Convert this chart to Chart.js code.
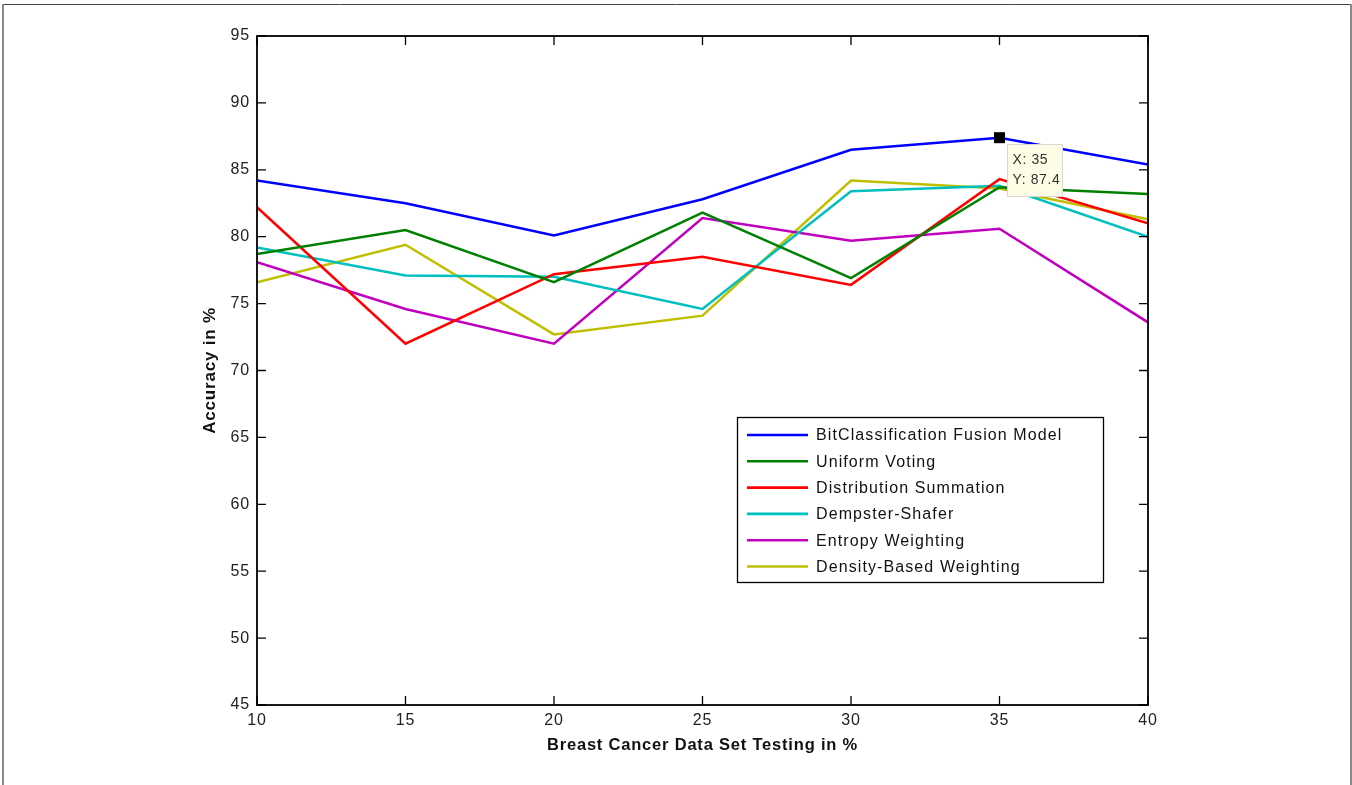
<!DOCTYPE html>
<html>
<head>
<meta charset="utf-8">
<title>Breast Cancer Data Set – Accuracy</title>
<script src="https://cdn.jsdelivr.net/npm/chart.js@4.4.1/dist/chart.umd.min.js"></script>
<style>
  html, body { margin: 0; padding: 0; background: #fff; }
  canvas { display: block; }
</style>
</head>
<body>
<canvas id="chart" width="1352" height="785"></canvas>
<script>
// Testing split (% of data set held out) and accuracy per fusion method
const testingPct = [10, 15, 20, 25, 30, 35, 40];

const bitClassificationFusion = [84.2, 82.5, 80.1, 82.8, 86.5, 87.4, 85.4];
const uniformVoting           = [78.7, 80.5, 76.6, 81.8, 76.9, 83.7, 83.2];
const distributionSummation   = [82.2, 72.0, 77.2, 78.5, 76.4, 84.3, 81.0];
const dempsterShafer          = [79.2, 77.1, 77.0, 74.6, 83.4, 83.8, 80.0];
const entropyWeighting        = [78.1, 74.6, 72.0, 81.4, 79.7, 80.6, 73.6];
const densityBasedWeighting   = [76.6, 79.4, 72.7, 74.1, 84.2, 83.6, 81.3];

const seriesNames = [
  'BitClassification Fusion Model',
  'Uniform Voting',
  'Distribution Summation',
  'Dempster-Shafer',
  'Entropy Weighting',
  'Density-Based Weighting'
];
const seriesValues = [
  bitClassificationFusion, uniformVoting, distributionSummation,
  dempsterShafer, entropyWeighting, densityBasedWeighting
];
const seriesColors = ['#0000ff', '#008000', '#ff0000', '#00bfbf', '#bf00bf', '#bfbf00'];

// Axis ranges and tick spacing
const xMin = 10, xMax = 40, xStep = 5;
const yMin = 45, yMax = 95, yStep = 5;

// Data tip pinned on the first series at 35 %
const tipSeries = 0;
const tipIndex = 5;

const FONT = '"Liberation Sans", Arial, "DejaVu Sans", sans-serif';

const datasets = seriesNames.map((name, i) => ({
  label: name,
  data: testingPct.map((x, j) => ({ x: x, y: seriesValues[i][j] })),
  borderColor: seriesColors[i],
  backgroundColor: seriesColors[i],
  borderWidth: 2.5,
  pointRadius: 0,
  pointHoverRadius: 0,
  tension: 0,
  fill: false
}));

// White page, thin figure border, and letter spacing for all canvas text
const figurePlugin = {
  id: 'figure',
  beforeDraw(chart) {
    const ctx = chart.ctx;
    ctx.save();
    ctx.fillStyle = '#ffffff';
    ctx.fillRect(0, 0, chart.width, chart.height);
    ctx.lineWidth = 1;
    ctx.strokeStyle = '#444';
    ctx.beginPath();
    ctx.moveTo(2, 4.5); ctx.lineTo(1351, 4.5);
    ctx.stroke();
    ctx.lineWidth = 2;
    ctx.strokeStyle = '#8a8a8a';
    ctx.beginPath();
    ctx.moveTo(3, 4); ctx.lineTo(3, chart.height);
    ctx.moveTo(1351, 4); ctx.lineTo(1351, chart.height);
    ctx.stroke();
    ctx.restore();
    ctx.letterSpacing = '0.8px';
  }
};

// Boxed axes with inward ticks on all four sides
const framePlugin = {
  id: 'frame',
  afterDatasetsDraw(chart) {
    const ctx = chart.ctx;
    const a = chart.chartArea;
    const xs = chart.scales.x, ys = chart.scales.y;
    const tl = 9;
    ctx.save();
    ctx.strokeStyle = '#000';
    ctx.lineWidth = 1.8;
    ctx.strokeRect(a.left, a.top, a.right - a.left, a.bottom - a.top);
    ctx.lineWidth = 1.3;
    ctx.beginPath();
    ys.ticks.forEach(t => {
      const y = ys.getPixelForValue(t.value);
      ctx.moveTo(a.left, y); ctx.lineTo(a.left + tl, y);
      ctx.moveTo(a.right, y); ctx.lineTo(a.right - tl, y);
    });
    xs.ticks.forEach(t => {
      const x = xs.getPixelForValue(t.value);
      ctx.moveTo(x, a.bottom); ctx.lineTo(x, a.bottom - tl);
      ctx.moveTo(x, a.top); ctx.lineTo(x, a.top + tl);
    });
    ctx.stroke();
    ctx.restore();
  }
};

// Boxed legend inside the plot area
const boxLegendPlugin = {
  id: 'boxLegend',
  afterDatasetsDraw(chart, args, opts) {
    const ctx = chart.ctx;
    ctx.save();
    ctx.fillStyle = '#fff';
    ctx.fillRect(opts.left, opts.top, opts.width, opts.height);
    ctx.strokeStyle = '#000';
    ctx.lineWidth = 1.3;
    ctx.strokeRect(opts.left + 0.5, opts.top + 0.5, opts.width, opts.height);
    ctx.font = '16px ' + FONT;
    ctx.letterSpacing = '1.1px';
    ctx.textBaseline = 'middle';
    ctx.textAlign = 'left';
    chart.data.datasets.forEach((ds, i) => {
      const y = opts.top + opts.firstRow + i * opts.rowGap;
      ctx.strokeStyle = ds.borderColor;
      ctx.lineWidth = 2.6;
      ctx.beginPath();
      ctx.moveTo(opts.left + 10, y);
      ctx.lineTo(opts.left + 71, y);
      ctx.stroke();
      ctx.fillStyle = '#111';
      ctx.fillText(ds.label, opts.left + 79, y + 1);
    });
    ctx.restore();
  }
};

// Data cursor marker with its X/Y readout
const dataTipPlugin = {
  id: 'dataTip',
  afterDraw(chart) {
    const ctx = chart.ctx;
    const pt = chart.data.datasets[tipSeries].data[tipIndex];
    const px = chart.scales.x.getPixelForValue(pt.x);
    const py = chart.scales.y.getPixelForValue(pt.y);
    ctx.save();
    ctx.fillStyle = '#000';
    ctx.fillRect(px - 5.5, py - 5.5, 11, 11);
    const bx = Math.round(px + 7) + 0.5, by = Math.round(py + 6) + 0.5;
    ctx.fillStyle = '#fdfde6';
    ctx.fillRect(bx, by, 55, 52);
    ctx.strokeStyle = '#d8d8d0';
    ctx.lineWidth = 1;
    ctx.strokeRect(bx, by, 55, 52);
    ctx.fillStyle = '#333';
    ctx.font = '14px ' + FONT;
    ctx.letterSpacing = '0.6px';
    ctx.textBaseline = 'middle';
    ctx.textAlign = 'left';
    ctx.fillText('X: ' + pt.x, bx + 5, by + 16);
    ctx.fillText('Y: ' + pt.y, bx + 5, by + 36);
    ctx.restore();
  }
};

new Chart(document.getElementById('chart'), {
  type: 'line',
  data: { datasets: datasets },
  options: {
    responsive: false,
    animation: false,
    devicePixelRatio: 1,
    events: [],
    layout: { padding: { top: 36, right: 204, bottom: 25, left: 200 } },
    plugins: {
      legend: { display: false },
      tooltip: { enabled: false },
      boxLegend: { left: 737, top: 417, width: 366, height: 165, firstRow: 18, rowGap: 26.3 }
    },
    scales: {
      x: {
        type: 'linear',
        min: xMin, max: xMax,
        grid: { display: false, drawTicks: false },
        border: { display: false },
        ticks: {
          stepSize: xStep,
          padding: 6,
          color: '#222',
          font: { family: FONT, size: 16 },
          maxRotation: 0
        },
        title: {
          display: true,
          text: 'Breast Cancer Data Set Testing in %',
          color: '#111',
          font: { family: FONT, size: 16.5, weight: 'bold' },
          padding: { top: 0, bottom: 5 }
        },
        afterFit(scale) { scale.height = 55; }
      },
      y: {
        type: 'linear',
        min: yMin, max: yMax,
        grid: { display: false, drawTicks: false },
        border: { display: false },
        ticks: {
          stepSize: yStep,
          padding: 7,
          color: '#222',
          font: { family: FONT, size: 16 }
        },
        title: {
          display: true,
          text: 'Accuracy in %',
          color: '#111',
          font: { family: FONT, size: 17, weight: 'bold' },
          padding: { top: 0, bottom: 0 }
        },
        afterFit(scale) { scale.width = 57; }
      }
    }
  },
  plugins: [figurePlugin, framePlugin, boxLegendPlugin, dataTipPlugin]
});
</script>
</body>
</html>
